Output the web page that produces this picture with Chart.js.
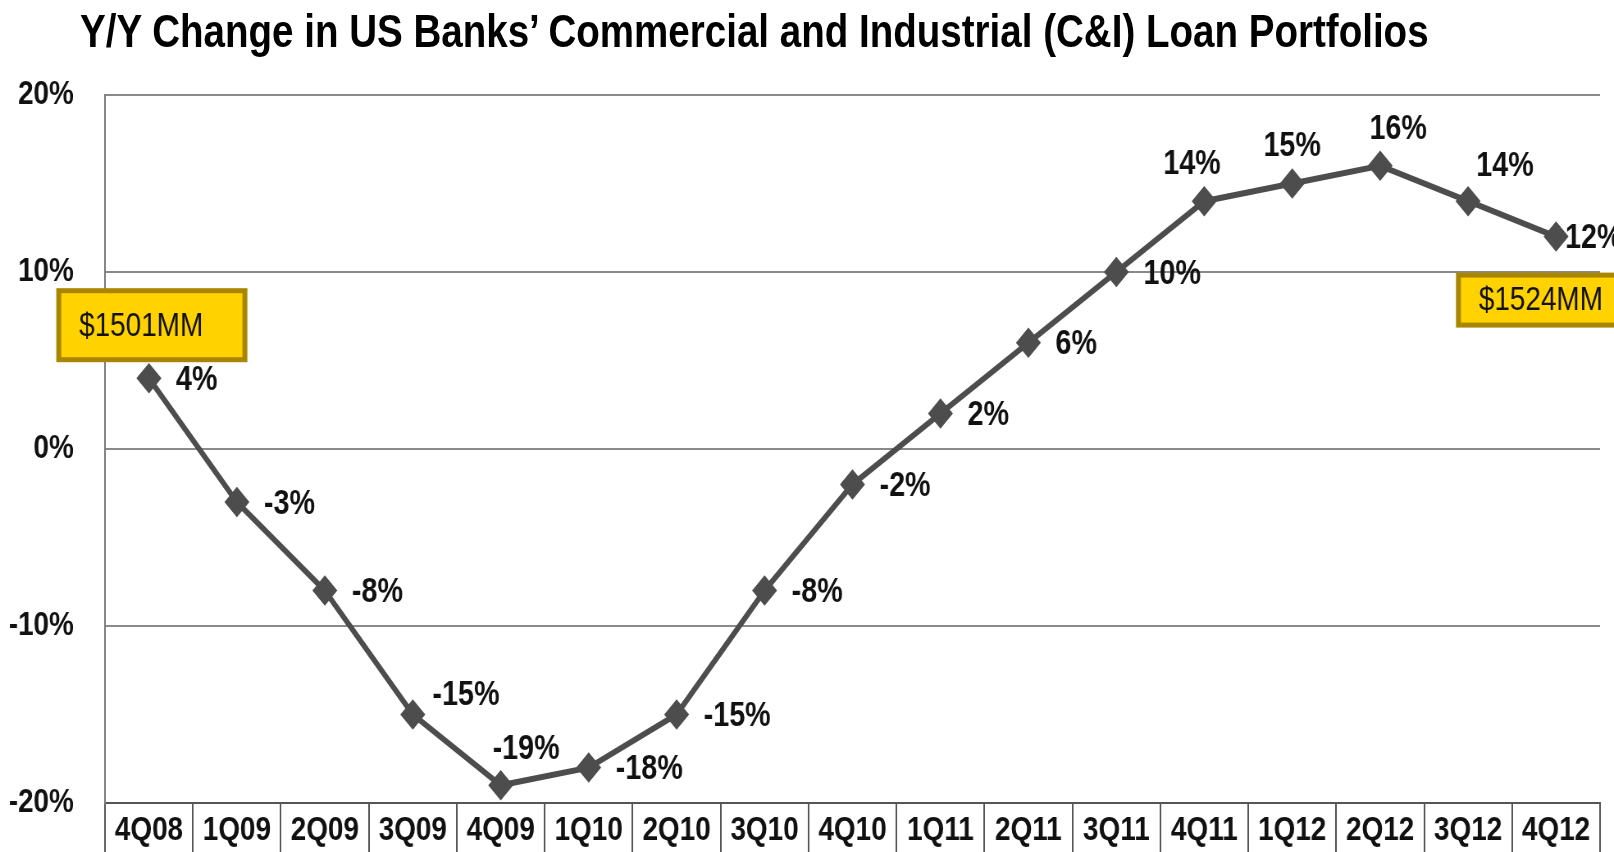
<!DOCTYPE html>
<html>
<head>
<meta charset="utf-8">
<script src="https://cdn.jsdelivr.net/npm/chart.js@4.4.1/dist/chart.umd.min.js"></script>
<style>
  body { margin: 0; background: #fff; overflow: hidden; }
  #wrap { position: relative; width: 1614px; height: 852px; overflow: hidden; }
  /* the original artwork uses a condensed face, so the chart is drawn wide and squeezed */
  #squeeze { position: absolute; left: 0; top: 0; transform: scaleX(0.8201); transform-origin: 0 0; }
  #title {
    position: absolute; left: 80px; top: 4px; margin: 0;
    font: bold 47px "Liberation Sans", Arial, sans-serif;
    color: #000; white-space: nowrap; line-height: 54px;
    transform: scaleX(0.8201); transform-origin: 0 0;
  }
</style>
</head>
<body>
<div id="wrap">
  <div id="squeeze"><canvas id="loanChart" width="1968" height="852"></canvas></div>
  <h1 id="title">Y/Y Change in US Banks’ Commercial and Industrial (C&amp;I) Loan Portfolios</h1>
</div>
<script>
// Data
const quarters = ['4Q08', '1Q09', '2Q09', '3Q09', '4Q09', '1Q10', '2Q10', '3Q10', '4Q10',
                  '1Q11', '2Q11', '3Q11', '4Q11', '1Q12', '2Q12', '3Q12', '4Q12'];
const yoyChange = [4, -3, -8, -15, -19, -18, -15, -8, -2, 2, 6, 10, 14, 15, 16, 14, 12];
const yTicks = [-20, -10, 0, 10, 20];

// Callouts (portfolio size at start and end)
const calloutIndex = [0, 16];
const calloutText = ['$1501MM', '$1524MM'];

// where each value label sits relative to its point
const labelAnchor = ['right', 'right', 'right', 'upRight', 'aboveRightMid', 'right', 'right', 'right', 'right',
                     'right', 'right', 'right', 'aboveLeft', 'above', 'aboveRight', 'aboveFar', 'rightClose'];

const FONT = '"Liberation Sans", Arial, sans-serif';

// Draws the % labels next to each point
const valueLabels = {
    id: 'valueLabels',
    afterDatasetsDraw(chart) {
        const c = chart.ctx;
        const pts = chart.getDatasetMeta(0).data;
        c.save();
        c.font = 'bold 35px ' + FONT;
        c.fillStyle = '#111';
        c.textBaseline = 'middle';
        pts.forEach((p, i) => {
            const txt = yoyChange[i] + '%';
            let x = p.x, y = p.y;
            switch (labelAnchor[i]) {
                case 'right': c.textAlign = 'left'; x += 33; y += 2; break;
                case 'rightClose': c.textAlign = 'left'; x += 11; y += 2; break;
                case 'upRight': c.textAlign = 'left'; x += 24; y -= 19; break;
                case 'above': c.textAlign = 'center'; y -= 37; break;
                case 'aboveLeft': c.textAlign = 'center'; x -= 15; y -= 37; break;
                case 'aboveRight': c.textAlign = 'center'; x += 22; y -= 36; break;
                case 'aboveRightMid': c.textAlign = 'center'; x += 31; y -= 36; break;
                case 'aboveFar': c.textAlign = 'center'; x += 45; y -= 35; break;
            }
            c.fillText(txt, x, y);
        });
        c.restore();
    }
};

// Yellow boxes with the dollar amounts
const callouts = {
    id: 'callouts',
    afterDraw(chart) {
        const c = chart.ctx;
        const pts = chart.getDatasetMeta(0).data;
        c.save();
        calloutIndex.forEach((idx, k) => {
            const p = pts[idx];
            const w = 233;
            const h = k === 0 ? 74 : 55;
            const left = p.x - (k === 0 ? 113 : 122);
            const top = k === 0 ? p.y - 90 : p.y + 36;
            c.fillStyle = '#a88600';
            c.fillRect(left, top, w, h);
            c.fillStyle = '#ffd200';
            c.fillRect(left + 6, top + 5, w - 12, h - 10);
            c.fillStyle = '#111';
            c.font = '34px ' + FONT;
            c.textAlign = 'center';
            c.textBaseline = 'middle';
            c.fillText(calloutText[k], left + w / 2 - 13, top + h / 2 + 1);
        });
        c.restore();
    }
};

new Chart(document.getElementById('loanChart'), {
    type: 'line',
    data: {
        labels: quarters,
        datasets: [{
            data: yoyChange,
            borderColor: '#4d4d4d',
            backgroundColor: '#4d4d4d',
            borderWidth: 6,
            pointStyle: 'rectRot',
            pointRadius: 11,
            pointHoverRadius: 11,
            tension: 0
        }]
    },
    options: {
        responsive: false,
        animation: false,
        layout: { padding: { top: 95, right: 12, left: 0, bottom: 0 } },
        plugins: {
            legend: { display: false },
            tooltip: { enabled: false }
        },
        scales: {
            x: {
                offset: true,
                afterFit: (s) => { s.height = 49; },
                grid: {
                    offset: true,
                    drawOnChartArea: false,
                    drawTicks: true,
                    tickLength: 49,
                    color: '#555',
                    lineWidth: 2
                },
                border: { display: true, color: '#555', width: 2 },
                ticks: {
                    color: '#111',
                    padding: -42,
                    maxRotation: 0,
                    autoSkip: false,
                    font: { family: FONT, size: 34, weight: 'bold' }
                }
            },
            y: {
                min: -20,
                max: 20,
                afterFit: (s) => { s.width = 128; s.paddingTop = 0; s.paddingBottom = 0; },
                afterBuildTicks: (s) => { s.ticks = yTicks.map(v => ({ value: v })); },
                grid: { color: '#8a8a8a', lineWidth: 2, drawTicks: false },
                border: { display: true, color: '#777', width: 2 },
                ticks: {
                    color: '#111',
                    padding: 38,
                    font: { family: FONT, size: 34, weight: 'bold' },
                    callback: (v) => v + '%'
                }
            }
        }
    },
    plugins: [valueLabels, callouts]
});
</script>
</body>
</html>
